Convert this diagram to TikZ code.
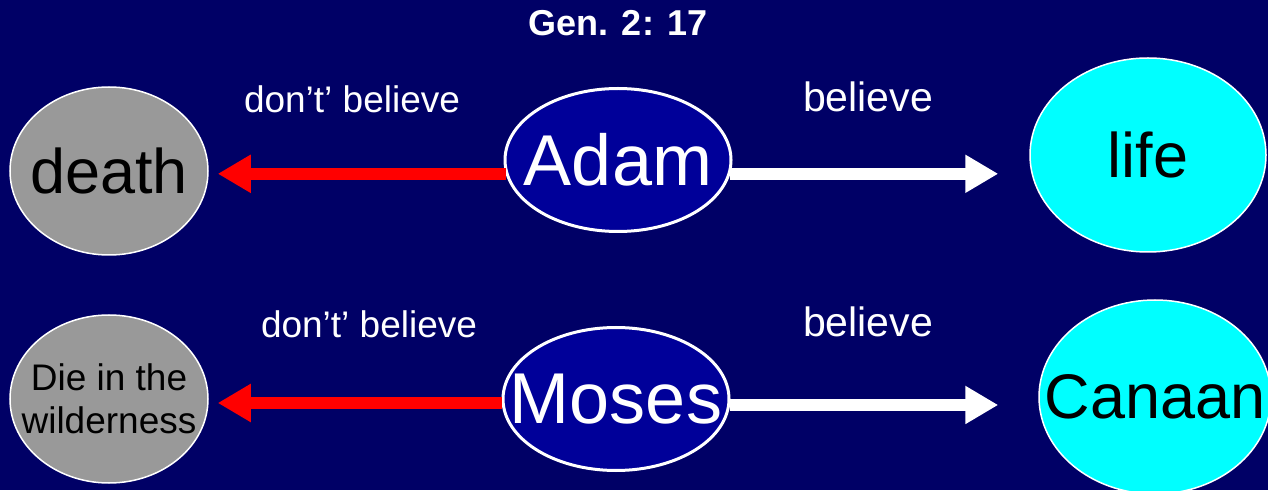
\documentclass[tikz,border=0pt]{standalone}
\usepackage{fontspec}
\setmainfont{Liberation Sans}
\usepackage{tikz}
\usetikzlibrary{arrows.meta,positioning,shapes.geometric}

\definecolor{slide}{RGB}{0,0,102}
\definecolor{manblue}{RGB}{0,0,153}
\definecolor{deadgray}{RGB}{153,153,153}
\definecolor{lifecyan}{RGB}{0,255,255}

% text that does not widen its ellipse
\newcommand{\slim}[1]{\makebox[0pt]{#1}}

\begin{document}
\begin{tikzpicture}[x=1pt, y=1pt,
  goal/.style={ellipse, draw=white, line width=1.5pt, inner sep=0pt, text=black},
  man/.style={ellipse, draw=white, line width=3pt, fill=manblue, inner sep=0pt, text=white,
    minimum width=226pt, minimum height=143pt, font=\fontsize{72}{72}\selectfont},
  lbl/.style={text=white, anchor=base, inner sep=0pt},
  arr/.style={-{Triangle[length=33pt, width=36pt]}, line width=12pt}
]
\fill[slide] (0,0) rectangle (1268,490);
\useasboundingbox (0,0) rectangle (1268,490);

\node[lbl, font=\bfseries\fontsize{36}{36}\selectfont] (ref) at (618,454) {Gen. 2: 17};

% first row
\node[man] (adam) at (618,330) {\slim{Adam}};
\node[goal, fill=deadgray, minimum width=198pt, minimum height=168pt,
  font=\fontsize{63}{63}\selectfont] (death) at (109,319) {\slim{death}};
\node[goal, fill=lifecyan, minimum width=236pt, minimum height=194pt,
  font=\fontsize{63}{63}\selectfont] (life) at (1148,335) {\slim{life}};
\draw[arr, red] (adam.187) -- (adam.187 -| death.east) [shorten >=9pt];
\draw[arr, white] (adam.353) -- (adam.353 -| life.west) [shorten >=31pt];
\node[lbl, font=\fontsize{37}{37}\selectfont] (no1) at (352,377) {don’t’ believe};
\node[lbl, font=\fontsize{41}{41}\selectfont] (yes1) at (868,378) {believe};

% second row
\node[man] (moses) at (616,91) {\slim{Moses}};
\node[goal, fill=deadgray, minimum width=198pt, minimum height=168pt, align=center,
  font=\fontsize{37}{43}\selectfont] (wild) at (109,91) {\slim{Die in the}\\\slim{wilderness}};
\node[goal, fill=lifecyan, minimum width=232pt, minimum height=194pt,
  font=\fontsize{63}{63}\selectfont] (canaan) at (1155,93) {\slim{Canaan}};
\draw[arr, red] (moses.182.5) -- (moses.182.5 -| wild.east) [shorten >=9pt];
\draw[arr, white] (moses.357.5) -- (moses.357.5 -| canaan.west) [shorten >=40pt];
\node[lbl, font=\fontsize{37}{37}\selectfont] (no2) at (369,152) {don’t’ believe};
\node[lbl, font=\fontsize{41}{41}\selectfont] (yes2) at (868,153) {believe};
\end{tikzpicture}
\end{document}
